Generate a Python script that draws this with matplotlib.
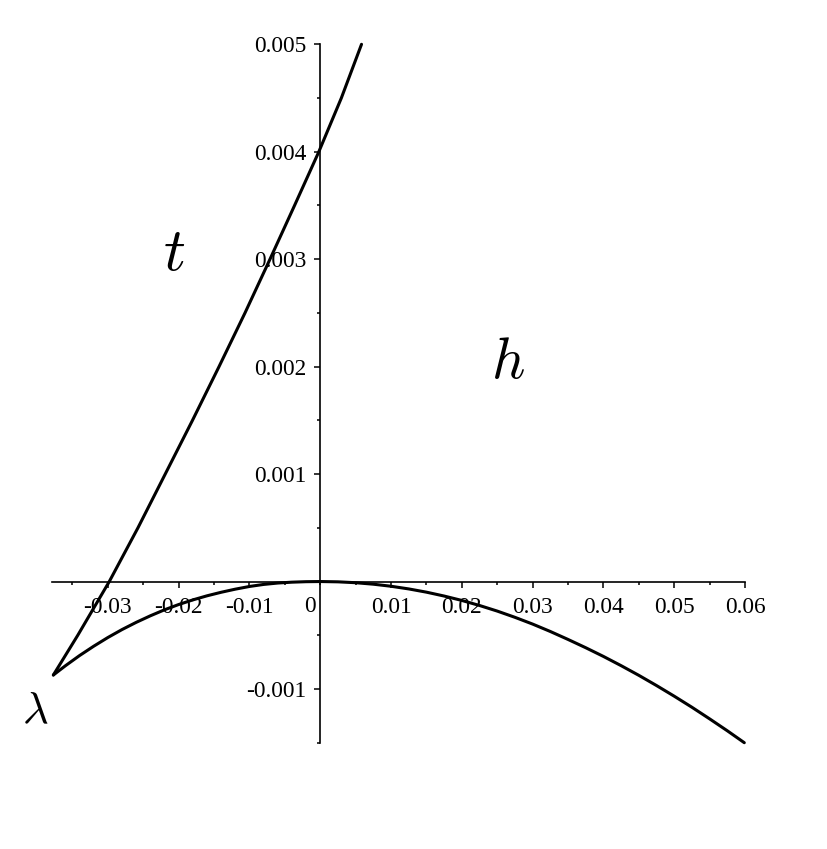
import matplotlib
matplotlib.use("Agg")
import matplotlib.pyplot as plt
import matplotlib.transforms as mtransforms
from matplotlib.ticker import MultipleLocator, FixedLocator

# ---- data ----
t_x = [-0.0377, -0.03425, -0.0298, -0.02575, -0.0219, -0.01805, -0.0143, -0.01063,
       -0.0071, -0.00363, -0.0002, 0.00298, 0.00583]
t_y = [-0.00087, -0.0005, 0.0, 0.0005, 0.001, 0.0015, 0.002, 0.0025,
       0.003, 0.0035, 0.004, 0.0045, 0.005]

h_x = [-0.0377, -0.036, -0.034, -0.032, -0.030, -0.028, -0.026, -0.024, -0.022,
       -0.020, -0.018, -0.016, -0.014, -0.012, -0.010, -0.008, -0.006, -0.004,
       -0.002, 0.0, 0.0025, 0.005, 0.0075, 0.010, 0.0125, 0.015, 0.0175, 0.020,
       0.0225, 0.025, 0.0275, 0.030, 0.0325, 0.035, 0.0375, 0.040, 0.0425, 0.045,
       0.0475, 0.050, 0.0525, 0.055, 0.0575, 0.0599]
h_y = [-0.00087, -0.000784, -0.000689, -0.000602, -0.000521, -0.000447, -0.00038,
       -0.000319, -0.000263, -0.000214, -0.000171, -0.000133, -0.0001, -0.000071,
       -0.000046, -0.000027, -0.000014, -0.000006, -0.0000015, 0.0, -0.0000028,
       -0.000011, -0.0000248, -0.000044, -0.0000688, -0.000099, -0.000135, -0.000176,
       -0.000223, -0.000275, -0.000333, -0.000396, -0.000465, -0.000539, -0.000616,
       -0.000697, -0.000783, -0.000873, -0.000968, -0.001067, -0.00117, -0.001278,
       -0.001389, -0.0015]

x_ticks = [-0.03, -0.02, -0.01, 0.01, 0.02, 0.03, 0.04, 0.05, 0.06]
x_tick_labels = ["-0.03", "-0.02", "-0.01", "0.01", "0.02", "0.03", "0.04", "0.05", "0.06"]
y_ticks = [-0.001, 0.001, 0.002, 0.003, 0.004, 0.005]
y_tick_labels = ["-0.001", "0.001", "0.002", "0.003", "0.004", "0.005"]

curve_labels = [r"$t$", r"$h$", r"$\lambda$"]
# ---------------------------------------

plt.rcParams["font.family"] = ["Liberation Serif", "DejaVu Serif"]
plt.rcParams["mathtext.fontset"] = "cm"
plt.rcParams["axes.unicode_minus"] = False

TICK_FS = 16.8

fig = plt.figure(figsize=(8.27, 8.49), dpi=100)
ax = fig.add_axes([52.3 / 827, 1 - 742.7 / 849, (745 - 52.3) / 827, (742.7 - 44.3) / 849])

ax.set_xlim(-0.03785, 0.06)
ax.set_ylim(-0.0015, 0.005)

for s in ["top", "right"]:
    ax.spines[s].set_visible(False)
ax.spines["left"].set_position(("data", 0))
ax.spines["bottom"].set_position(("data", 0))
for s in ["left", "bottom"]:
    ax.spines[s].set_linewidth(1.2)

ax.plot(t_x, t_y, color="black", lw=2.2, clip_on=False, solid_capstyle="round",
        solid_joinstyle="round")
ax.plot(h_x, h_y, color="black", lw=2.2, clip_on=False, solid_capstyle="round",
        solid_joinstyle="round")

ax.xaxis.set_major_locator(FixedLocator(x_ticks))
ax.set_xticklabels(x_tick_labels)
ax.xaxis.set_minor_locator(MultipleLocator(0.005))
ax.yaxis.set_major_locator(FixedLocator(y_ticks))
ax.set_yticklabels(y_tick_labels)
ax.yaxis.set_minor_locator(MultipleLocator(0.0005))

ax.tick_params(axis="both", labelsize=TICK_FS)
ax.tick_params(axis="x", which="major", direction="out", length=4.6, width=1.1, pad=6.5)
ax.tick_params(axis="x", which="minor", direction="out", length=2.3, width=1.1)
ax.tick_params(axis="y", which="major", direction="out", length=4.2, width=1.1, pad=6.0)
ax.tick_params(axis="y", which="minor", direction="out", length=2.1, width=1.1)

# "0" label on the x axis, shifted left of the vertical axis
off = mtransforms.offset_copy(ax.transData, fig=fig, x=-10.3, y=-14.5, units="dots")
ax.text(0, 0, "0", transform=off, ha="center", va="top", fontsize=TICK_FS)

ax.text(-0.02066, 0.0029, curve_labels[0], fontsize=44, ha="center", va="baseline")
ax.text(0.0265, 0.00189, curve_labels[1], fontsize=42, ha="center", va="baseline")
ax.text(-0.0402, -0.00132, curve_labels[2], fontsize=32, ha="center", va="baseline",
        clip_on=False)

fig.savefig("out.png", dpi=100)
